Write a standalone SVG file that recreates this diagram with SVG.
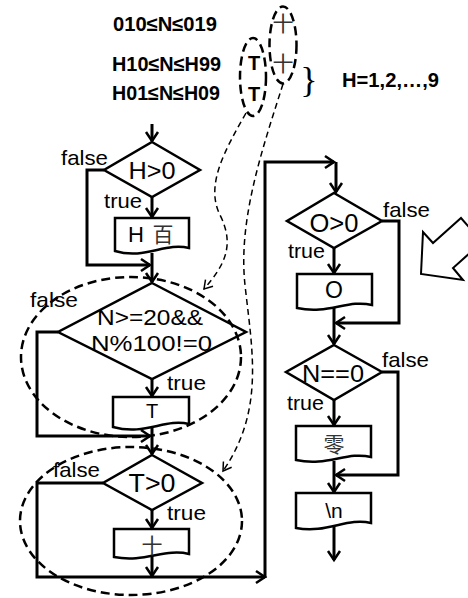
<svg xmlns="http://www.w3.org/2000/svg" width="468" height="598" viewBox="0 0 468 598">
<style>
.s{fill:#fff;stroke:#000;stroke-width:2.5;stroke-linejoin:miter}
.c{fill:none;stroke:#000;stroke-width:3}
.t{font-family:"Liberation Sans",Arial,sans-serif;fill:#000}
.b{font-weight:bold}
.cjk{font-family:"Noto Sans CJK SC",sans-serif;fill:#333}
.de{fill:none;stroke:#000;stroke-width:2.5;stroke-dasharray:9 5}
.dc{fill:none;stroke:#000;stroke-width:1.5;stroke-dasharray:6 4}
</style>
<defs>
<marker id="a" markerUnits="userSpaceOnUse" orient="auto" overflow="visible" markerWidth="1" markerHeight="1"><path d="M-9,-6 L0,0 L-9,6" fill="none" stroke="#000" stroke-width="2.5"/></marker>
<marker id="d" markerUnits="userSpaceOnUse" orient="auto" overflow="visible" markerWidth="1" markerHeight="1"><path d="M-8,-5 L0,0 L-8,5" fill="none" stroke="#000" stroke-width="1.5"/></marker>
</defs>

<g id="ranges">
<text class="t b" x="113" y="31" font-size="20" textLength="104" lengthAdjust="spacingAndGlyphs">010≤N≤019</text>
<text class="t b" x="112" y="71" font-size="20" textLength="109" lengthAdjust="spacingAndGlyphs">H10≤N≤H99</text>
<text class="t b" x="112" y="100" font-size="20" textLength="108" lengthAdjust="spacingAndGlyphs">H01≤N≤H09</text>
</g>
<g id="tens-group">
<ellipse class="de" cx="253" cy="77" rx="13" ry="39" stroke-dasharray="7 4"/>
<text class="t b" x="254" y="70" font-size="20" text-anchor="middle">T</text>
<text class="t b" x="254" y="101" font-size="20" text-anchor="middle">T</text>
</g>
<g id="shi-group">
<ellipse class="de" cx="283" cy="45" rx="13.5" ry="38.5" stroke-dasharray="7 4"/>
<text class="cjk" x="283" y="31" font-size="21" text-anchor="middle">十</text>
<text class="cjk" x="283" y="71" font-size="21" text-anchor="middle">十</text>
</g>
<g id="brace">
<text x="309" y="92" font-family="Liberation Serif,serif" font-size="36" text-anchor="middle">}</text>
<text class="t b" x="342" y="87" font-size="20" textLength="97" lengthAdjust="spacingAndGlyphs">H=1,2,…,9</text>
</g>

<g id="outline-arrow">
<polygon points="421,274 423,232 433,243 461,218 482,242 453,268 463,280" fill="#fff" stroke="#000" stroke-width="2"/>
</g>

<g id="connectors">
<path class="c" d="M152,124 V141" marker-end="url(#a)"/>
<path class="c" d="M152,197 V217" marker-end="url(#a)"/>
<path class="c" d="M104,170 H87 V265 H150" marker-end="url(#a)"/>
<path class="c" d="M152,253 V282" marker-end="url(#a)"/>
<path class="c" d="M58,332 H37 V436 H150" marker-end="url(#a)"/>
<path class="c" d="M152,379 V396" marker-end="url(#a)"/>
<path class="c" d="M152,426 V454" marker-end="url(#a)"/>
<path class="c" d="M103,483 H37 V577 H265" marker-end="url(#a)"/>
<path class="c" d="M152,510 V528" marker-end="url(#a)"/>
<path class="c" d="M152,556 V576" marker-end="url(#a)"/>
<path class="c" d="M265,578 V162 H334" marker-end="url(#a)"/>
<path class="c" d="M336,162 V192" marker-end="url(#a)"/>
<path class="c" d="M334,248 V273" marker-end="url(#a)"/>
<path class="c" d="M382,221 H399 V323 H336" marker-end="url(#a)"/>
<path class="c" d="M334,307 V344" marker-end="url(#a)"/>
<path class="c" d="M334,400 V425" marker-end="url(#a)"/>
<path class="c" d="M382,372 H398 V475 H336" marker-end="url(#a)"/>
<path class="c" d="M334,461 V492" marker-end="url(#a)"/>
<path class="c" d="M334,527 V560" marker-end="url(#a)"/>
<path class="dc" d="M246,113 C225,150 205,185 220,215 C235,245 225,265 204,289" marker-end="url(#d)"/>
<path class="dc" d="M283,84 C262,150 238,220 245,285 C252,350 265,410 223,471" marker-end="url(#d)"/>
</g>

<g id="cond-H">
<polygon class="s" points="152,142 200,170 152,197 104,170"/>
<text class="t" x="152" y="179" font-size="24" text-anchor="middle" textLength="47" lengthAdjust="spacingAndGlyphs">H&gt;0</text>
<text class="t" x="61" y="165" font-size="21" textLength="47" lengthAdjust="spacingAndGlyphs">false</text>
<text class="t" x="104" y="208" font-size="21" textLength="38" lengthAdjust="spacingAndGlyphs">true</text>
</g>
<g id="out-H">
<path class="s" d="M115,218 H189 V248 C165,242 145,260 115,251 Z"/>
<text class="t" x="128" y="242" font-size="22">H</text>
<text class="cjk" x="163" y="242" font-size="21" text-anchor="middle">百</text>
</g>

<g id="ellipse-T">
<ellipse class="de" cx="131" cy="357" rx="110" ry="80"/>
</g>
<g id="cond-T">
<polygon class="s" points="152,283 246,332 152,379 58,332" fill-opacity="0"/>
<text class="t" x="97" y="325" font-size="22" textLength="106" lengthAdjust="spacingAndGlyphs">N&gt;=20&amp;&amp;</text>
<text class="t" x="91" y="351" font-size="22" textLength="121" lengthAdjust="spacingAndGlyphs">N%100!=0</text>
<text class="t" x="30" y="307" font-size="21" textLength="48" lengthAdjust="spacingAndGlyphs">false</text>
<text class="t" x="167" y="390" font-size="21" textLength="39" lengthAdjust="spacingAndGlyphs">true</text>
</g>
<g id="out-T">
<path class="s" d="M113,397 H189 V424 C165,418 145,436 113,427 Z"/>
<text class="t" x="152" y="418" font-size="20" text-anchor="middle">T</text>
</g>

<g id="ellipse-shi">
<ellipse class="de" cx="131" cy="521" rx="111" ry="74"/>
</g>
<g id="cond-shi">
<polygon class="s" points="152,455 202,483 152,510 103,483" fill-opacity="0"/>
<text class="t" x="152" y="492" font-size="25" text-anchor="middle" textLength="47" lengthAdjust="spacingAndGlyphs">T&gt;0</text>
<text class="t" x="53" y="477" font-size="21" textLength="47" lengthAdjust="spacingAndGlyphs">false</text>
<text class="t" x="167" y="520" font-size="21" textLength="39" lengthAdjust="spacingAndGlyphs">true</text>
</g>
<g id="out-shi">
<path class="s" d="M114,529 H189 V554 C165,548 145,563 114,557 Z" fill-opacity="0"/>
<text class="cjk" x="152" y="553" font-size="21" text-anchor="middle">十</text>
</g>

<g id="cond-O">
<polygon class="s" points="334,193 382,221 334,248 287,221"/>
<text class="t" x="334" y="232" font-size="25" text-anchor="middle" textLength="49" lengthAdjust="spacingAndGlyphs">O&gt;0</text>
<text class="t" x="383" y="217" font-size="21" textLength="47" lengthAdjust="spacingAndGlyphs">false</text>
<text class="t" x="288" y="258" font-size="21" textLength="37" lengthAdjust="spacingAndGlyphs">true</text>
</g>
<g id="out-O">
<path class="s" d="M297,274 H372 V305 C348,299 328,315 297,308 Z"/>
<text class="t" x="334" y="298" font-size="23" text-anchor="middle">O</text>
</g>

<g id="cond-zero">
<polygon class="s" points="334,345 382,372 334,400 286,372"/>
<text class="t" x="302" y="382" font-size="23" textLength="62" lengthAdjust="spacingAndGlyphs">N==0</text>
<text class="t" x="382" y="367" font-size="21" textLength="47" lengthAdjust="spacingAndGlyphs">false</text>
<text class="t" x="287" y="410" font-size="21" textLength="37" lengthAdjust="spacingAndGlyphs">true</text>
</g>
<g id="out-zero">
<path class="s" d="M296,426 H371 V457 C347,451 327,467 296,460 Z"/>
<text class="cjk" x="334" y="452" font-size="21" text-anchor="middle">零</text>
</g>
<g id="out-newline">
<path class="s" d="M296,493 H371 V523 C347,517 327,534 296,528 Z"/>
<text class="t" x="334" y="518" font-size="21" text-anchor="middle">\n</text>
</g>
</svg>
